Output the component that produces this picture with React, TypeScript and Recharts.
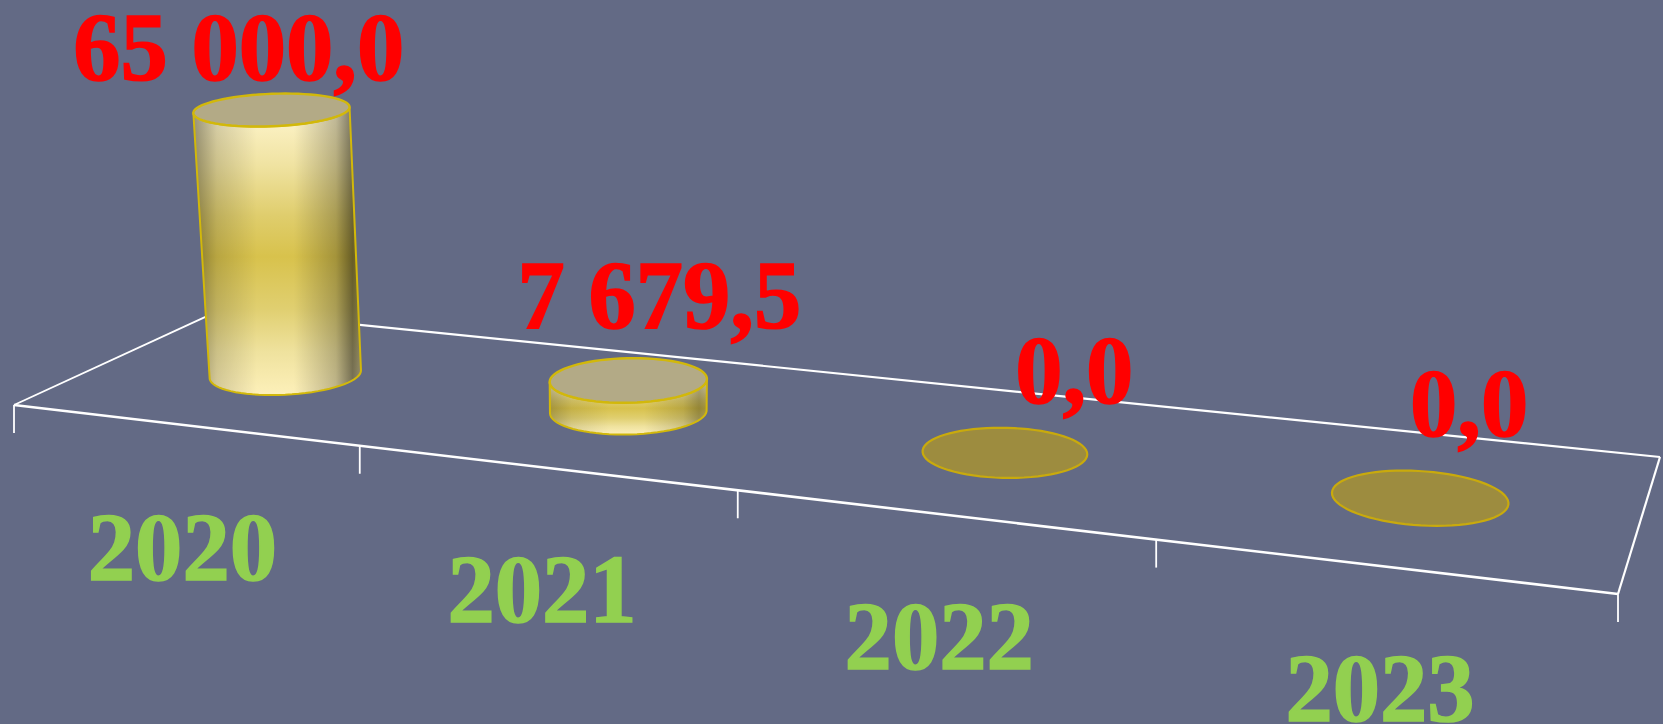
import React from 'react';
import { ComposedChart, Bar, XAxis, YAxis, LabelList, Customized } from 'recharts';

const years = ['2020', '2021', '2022', '2023'];
const amounts = [65000, 7679.5, 0, 0];
const chartData = years.map((year, i) => ({ year, amount: amounts[i] }));

const W = 1663;
const H = 724;
const BG = '#636a85';
const FLOOR = { fl: [14, 405], fr: [1618, 594], br: [1660, 457], bl: [219, 310.6] };
const LABEL_SHIFT = [[-33, -30], [31, -51.5], [69.5, -49], [49.5, -61.5]];
const FLOOR_TICKS = [0, 0.252, 0.502, 0.752, 1];
const V0 = 0.5;
const DV = 0.2;
const SHIFT = [3, 1];
const N = 72;

const [x0, y0] = FLOOR.fl;
const [x1, y1] = FLOOR.fr;
const [x2, y2] = FLOOR.br;
const [x3, y3] = FLOOR.bl;
const sx = x0 - x1 + x2 - x3;
const sy = y0 - y1 + y2 - y3;
const d1x = x1 - x2;
const d2x = x3 - x2;
const d1y = y1 - y2;
const d2y = y3 - y2;
const det = d1x * d2y - d2x * d1y;
const g = (sx * d2y - d2x * sy) / det;
const hh = (d1x * sy - sx * d1y) / det;
const a = x1 - x0 + g * x1;
const b = x3 - x0 + hh * x3;
const d = y1 - y0 + g * y1;
const e = y3 - y0 + hh * y3;

function project(u: number, v: number): number[] {
  const q = g * u + hh * v + 1;
  return [(a * u + b * v + x0) / q, (d * u + e * v + y0) / q];
}

function geometry(cx: number, width: number, height: number) {
  const u = cx / W;
  const du = width / 2 / W;
  const cen = project(u, V0);
  const c = [cen[0] + SHIFT[0], cen[1] + SHIFT[1]];
  const ring: number[][] = [];
  for (let i = 0; i < N; i++) {
    const t = (i / N) * Math.PI * 2;
    const p = project(u + du * Math.cos(t), V0 + DV * Math.sin(t));
    ring.push([p[0] + SHIFT[0], p[1] + SHIFT[1]]);
  }
  const squash = 1 - 0.0008 * height;
  const widen = 1 + 0.00012 * height;
  const lean = (c[0] - 630) * height / 6574;
  const top = ring.map((p) => [c[0] + lean + (p[0] - c[0]) * widen, c[1] - height + (p[1] - c[1]) * squash]);
  return { c, ring, top, topCenter: [c[0] + lean, c[1] - height] };
}

const closed = (pts: number[][]) =>
  'M' + pts.map((p) => `${p[0].toFixed(2)},${p[1].toFixed(2)}`).join('L') + 'Z';

function sidePath(ring: number[][], top: number[][]) {
  let iMin = 0;
  let iMax = 0;
  ring.forEach((p, i) => {
    if (p[0] < ring[iMin][0]) iMin = i;
    if (p[0] > ring[iMax][0]) iMax = i;
  });
  const pts: number[][] = [top[iMin]];
  let i = iMin;
  while (true) {
    pts.push(ring[i]);
    if (i === iMax) break;
    i = (i + 1) % N;
  }
  i = iMax;
  while (true) {
    pts.push(top[i]);
    if (i === iMin) break;
    i = (i - 1 + N) % N;
  }
  return closed(pts);
}

function Cylinder(props: any) {
  const { x, width, height } = props;
  const h = Math.abs(height || 0);
  const { ring, top } = geometry(x + width / 2, width, h);
  if (h < 1) {
    return <path d={closed(ring)} fill="#9d8c3f" stroke="#c9aa0c" strokeWidth={2.2} />;
  }
  const side = sidePath(ring, top);
  return (
    <g>
      <path d={side} fill="url(#cylBody)" />
      <path d={side} fill="url(#cylShade)" opacity={h < 100 ? 0.6 : 1} />
      <path d={side} fill="none" stroke="#d2b80a" strokeWidth={2} />
      <path d={closed(top)} fill="#b3aa86" stroke="#d2b80a" strokeWidth={2.4} />
    </g>
  );
}

function Floor() {
  const tick = (u: number) => {
    const p = project(u, 0);
    return <line key={u} x1={p[0]} y1={p[1]} x2={p[0]} y2={p[1] + 28} stroke="#fff" strokeWidth={1.8} />;
  };
  const line = (p: number[], q: number[], w: number) => (
    <line x1={p[0]} y1={p[1]} x2={q[0]} y2={q[1]} stroke="#fff" strokeWidth={w} />
  );
  return (
    <g>
      <defs>
        <linearGradient id="cylBody" x1="0" y1="0" x2="0" y2="1">
          <stop offset="0" stopColor="#fff6cf" />
          <stop offset="0.2" stopColor="#f0e3a2" />
          <stop offset="0.38" stopColor="#dfcd6c" />
          <stop offset="0.52" stopColor="#d8c24c" />
          <stop offset="0.7" stopColor="#e0cf70" />
          <stop offset="0.85" stopColor="#efe29e" />
          <stop offset="1" stopColor="#fdf0ba" />
        </linearGradient>
        <linearGradient id="cylShade" x1="0" y1="0" x2="1" y2="0">
          <stop offset="0" stopColor="#000" stopOpacity={0.4} />
          <stop offset="0.14" stopColor="#000" stopOpacity={0.15} />
          <stop offset="0.38" stopColor="#000" stopOpacity={0} />
          <stop offset="0.6" stopColor="#000" stopOpacity={0} />
          <stop offset="0.85" stopColor="#000" stopOpacity={0.24} />
          <stop offset="0.95" stopColor="#000" stopOpacity={0.52} />
          <stop offset="1" stopColor="#000" stopOpacity={0.4} />
        </linearGradient>
      </defs>
      {line(FLOOR.fl, FLOOR.fr, 2.6)}
      {line(FLOOR.bl, FLOOR.br, 2.2)}
      {line(FLOOR.fl, FLOOR.bl, 1.9)}
      {line(FLOOR.fr, FLOOR.br, 2.2)}
      {FLOOR_TICKS.map(tick)}
    </g>
  );
}

const TEXT_STYLE = { fontFamily: '"Liberation Serif", serif', fontWeight: 700, fontSize: 98 };

function YearTick(props: any) {
  const { x, payload } = props;
  const p = project(x / W, 0);
  return (
    <text transform={`translate(${p[0] + 1},${p[1] + 155}) scale(0.965,1)`} textAnchor="middle" fill="#92d050" stroke="#92d050" strokeWidth={1.6} style={TEXT_STYLE}>
      {payload.value}
    </text>
  );
}

const formatValue = (v: number) => {
  const [i, f] = v.toFixed(1).split('.');
  return `${i.replace(/\B(?=(\d{3})+$)/g, ' ')},${f}`;
};

function ValueLabel(props: any) {
  const { x, width, height, value, index } = props;
  const { topCenter } = geometry(x + width / 2, width, Math.abs(height || 0));
  const s = LABEL_SHIFT[index];
  return (
    <text transform={`translate(${topCenter[0] + s[0]},${topCenter[1] + s[1]}) scale(0.965,1)`} textAnchor="middle" fill="#ff0000" stroke="#ff0000" strokeWidth={1.6} style={TEXT_STYLE}>
      {formatValue(value)}
    </text>
  );
}

export default function App() {
  return (
    <div style={{ position: 'fixed', left: 0, top: 0, width: W, height: H, background: BG, overflow: 'hidden' }}>
      <ComposedChart width={W} height={H} data={chartData} margin={{ top: 406, right: 0, bottom: 0, left: 0 }} barSize={166}>
        <Customized component={Floor} />
        <XAxis dataKey="year" height={54} axisLine={false} tickLine={false} tick={YearTick} interval={0} />
        <YAxis hide domain={[0, 65000]} />
        <Bar dataKey="amount" isAnimationActive={false} shape={Cylinder}>
          <LabelList dataKey="amount" content={ValueLabel} />
        </Bar>
      </ComposedChart>
    </div>
  );
}
